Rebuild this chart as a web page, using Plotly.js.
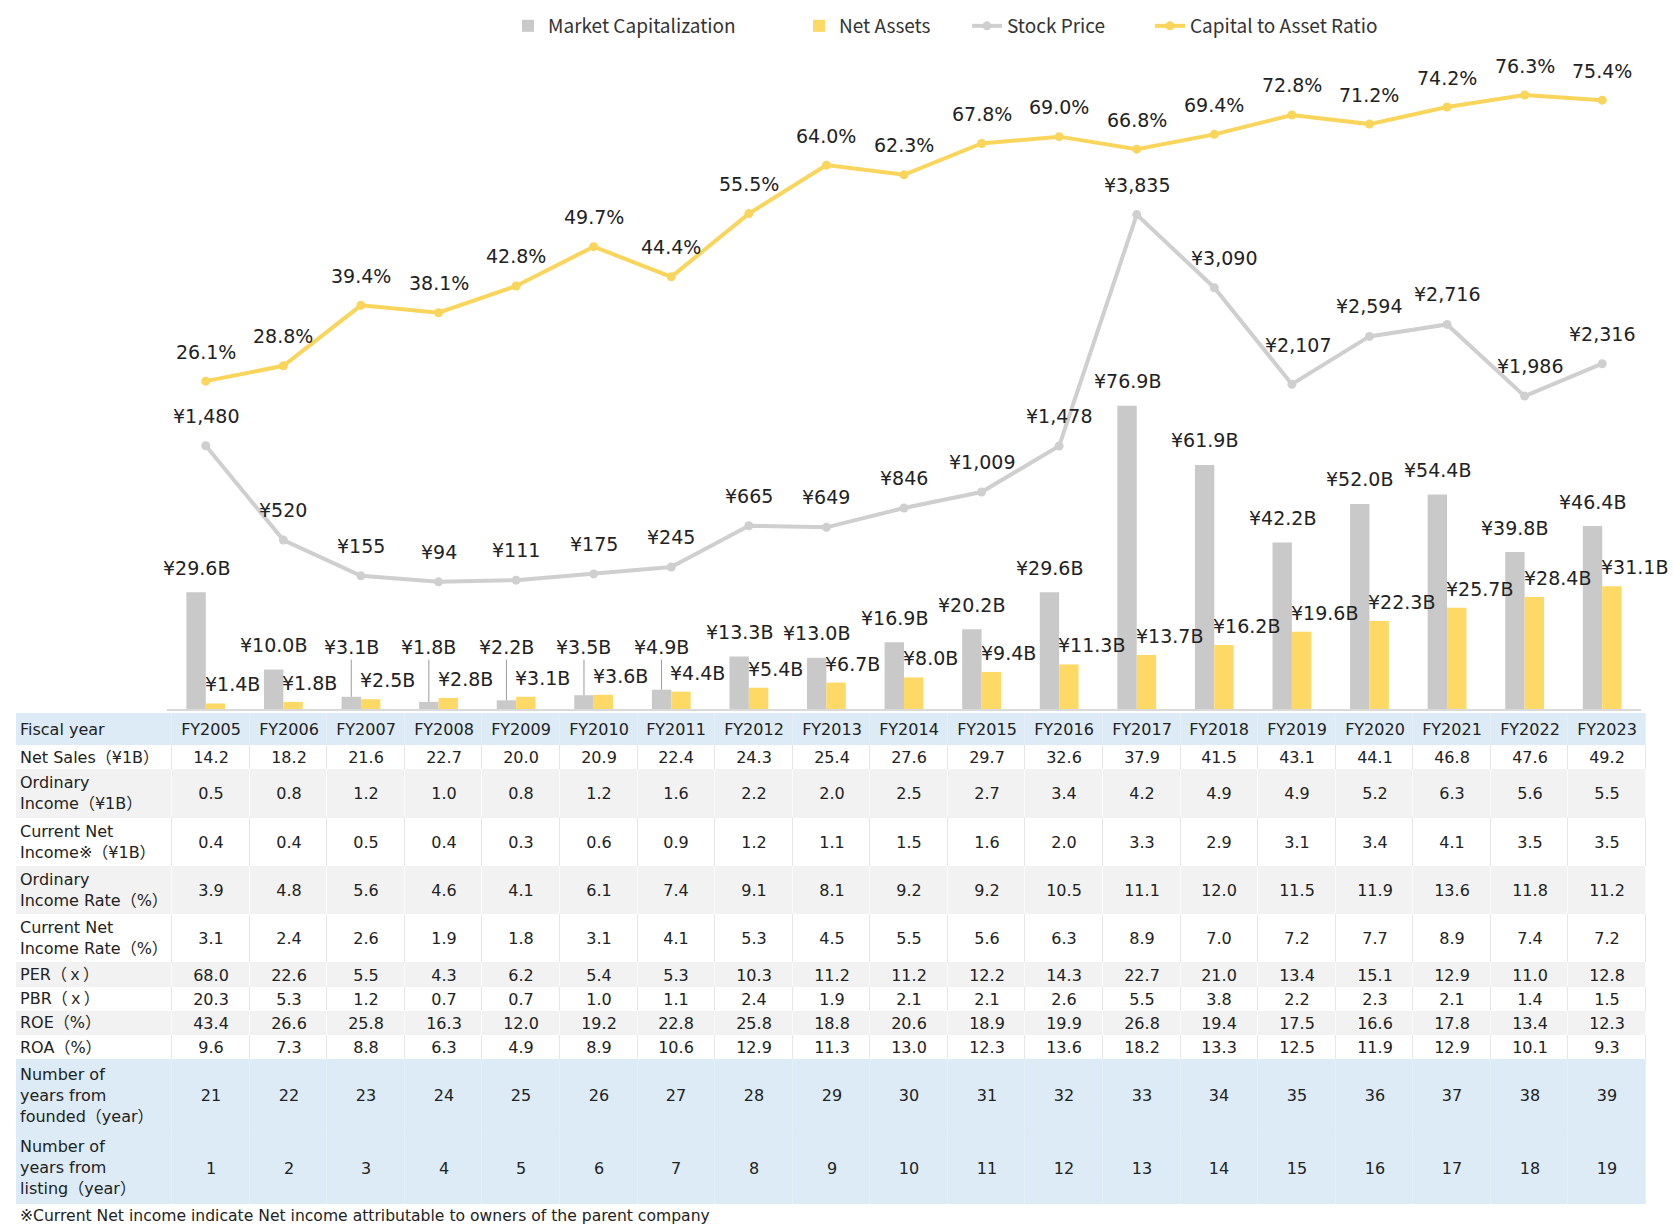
<!DOCTYPE html>
<html>
<head>
<meta charset="utf-8">
<script src="https://cdn.plot.ly/plotly-3.0.1.min.js"></script>
<style>html,body{margin:0;padding:0;background:#ffffff;} #chart{width:1674px;height:1231px;}</style>
</head>
<body>
<div id="chart"></div>
<script>
// ---------------- data ----------------
const fiscalYears = ['FY2005','FY2006','FY2007','FY2008','FY2009','FY2010','FY2011','FY2012','FY2013','FY2014','FY2015','FY2016','FY2017','FY2018','FY2019','FY2020','FY2021','FY2022','FY2023'];
const marketCap = [29.6,10.0,3.1,1.8,2.2,3.5,4.9,13.3,13.0,16.9,20.2,29.6,76.9,61.9,42.2,52.0,54.4,39.8,46.4];
const netAssets = [1.4,1.8,2.5,2.8,3.1,3.6,4.4,5.4,6.7,8.0,9.4,11.3,13.7,16.2,19.6,22.3,25.7,28.4,31.1];
const stockPrice = [1480,520,155,94,111,175,245,665,649,846,1009,1478,3835,3090,2107,2594,2716,1986,2316];
const capitalRatio = [26.1,28.8,39.4,38.1,42.8,49.7,44.4,55.5,64.0,62.3,67.8,69.0,66.8,69.4,72.8,71.2,74.2,76.3,75.4];

const netSales = [14.2,18.2,21.6,22.7,20.0,20.9,22.4,24.3,25.4,27.6,29.7,32.6,37.9,41.5,43.1,44.1,46.8,47.6,49.2];
const ordinaryIncome = [0.5,0.8,1.2,1.0,0.8,1.2,1.6,2.2,2.0,2.5,2.7,3.4,4.2,4.9,4.9,5.2,6.3,5.6,5.5];
const currentNetIncome = [0.4,0.4,0.5,0.4,0.3,0.6,0.9,1.2,1.1,1.5,1.6,2.0,3.3,2.9,3.1,3.4,4.1,3.5,3.5];
const ordinaryIncomeRate = [3.9,4.8,5.6,4.6,4.1,6.1,7.4,9.1,8.1,9.2,9.2,10.5,11.1,12.0,11.5,11.9,13.6,11.8,11.2];
const currentNetIncomeRate = [3.1,2.4,2.6,1.9,1.8,3.1,4.1,5.3,4.5,5.5,5.6,6.3,8.9,7.0,7.2,7.7,8.9,7.4,7.2];
const perValues = [68.0,22.6,5.5,4.3,6.2,5.4,5.3,10.3,11.2,11.2,12.2,14.3,22.7,21.0,13.4,15.1,12.9,11.0,12.8];
const pbrValues = [20.3,5.3,1.2,0.7,0.7,1.0,1.1,2.4,1.9,2.1,2.1,2.6,5.5,3.8,2.2,2.3,2.1,1.4,1.5];
const roeValues = [43.4,26.6,25.8,16.3,12.0,19.2,22.8,25.8,18.8,20.6,18.9,19.9,26.8,19.4,17.5,16.6,17.8,13.4,12.3];
const roaValues = [9.6,7.3,8.8,6.3,4.9,8.9,10.6,12.9,11.3,13.0,12.3,13.6,18.2,13.3,12.5,11.9,12.9,10.1,9.3];
const yearsFromFounded = [21,22,23,24,25,26,27,28,29,30,31,32,33,34,35,36,37,38,39];
const yearsFromListing = [1,2,3,4,5,6,7,8,9,10,11,12,13,14,15,16,17,18,19];

const tableRowLabels = [
  'Fiscal year',
  'Net Sales（¥1B）',
  'Ordinary<br>Income（¥1B）',
  'Current Net<br>Income※（¥1B）',
  'Ordinary<br>Income Rate（%）',
  'Current Net<br>Income Rate（%）',
  'PER（ｘ）',
  'PBR（ｘ）',
  'ROE（%）',
  'ROA（%）',
  'Number of<br>years from<br>founded（year）',
  'Number of<br>years from<br>listing（year）'
];
const footnote = '※Current Net income indicate Net income attributable to owners of the parent company';

// ---------------- styling / layout constants ----------------
const FONT = 'DejaVu Sans, Noto Sans CJK JP, sans-serif';
const labelFont = {family: FONT, size: 19, color: '#222222'};
const W = 1674, H = 1231;
const fy = v => v.toFixed(1);
const yen = v => '¥' + String(v).replace(/\B(?=(\d{3})+(?!\d))/g, ',');

const tableRowValues = [
  fiscalYears,
  netSales.map(fy), ordinaryIncome.map(fy), currentNetIncome.map(fy),
  ordinaryIncomeRate.map(fy), currentNetIncomeRate.map(fy),
  perValues.map(fy), pbrValues.map(fy), roeValues.map(fy), roaValues.map(fy),
  yearsFromFounded.map(String), yearsFromListing.map(String)
];
const tableRowFill = [2,0,1,0,1,0,1,0,1,0,2,2];          // 0 white, 1 grey, 2 blue
const dividerColors = ['#e6e6e6', '#fbfbfb', '#e6eef7'];   // divider tint per fill class
const tableRowLines = [1.33,1,2,2,2,2,1,1,1,1,3,3];       // row heights in line units
const labelColUnits = 156/77.5;                          // label column width in data-column units

// table geometry
const yEdges = [0];
tableRowLines.forEach(h => yEdges.push(yEdges[yEdges.length-1] + h));
const tableTotal = yEdges[yEdges.length-1];
const xEdges = [-0.5 - labelColUnits];
for (let i = 0; i <= fiscalYears.length; i++) xEdges.push(i - 0.5);
const zFill = tableRowFill.map(f => new Array(fiscalYears.length + 1).fill(f));
const zText = tableRowValues.map(vals => [''].concat(vals));

// ---------------- traces ----------------
const traces = [
  {type:'bar', name:'Market Capitalization', x:fiscalYears, y:marketCap, xaxis:'x', yaxis:'y',
   marker:{color:'#c9c9c9'}, hoverinfo:'skip', legendwidth:246},
  {type:'bar', name:'Net Assets', x:fiscalYears, y:netAssets, xaxis:'x', yaxis:'y',
   marker:{color:'#ffd966'}, hoverinfo:'skip', legendwidth:123},
  {type:'scatter', mode:'lines+markers', name:'Stock Price', x:fiscalYears, y:stockPrice, xaxis:'x', yaxis:'y2',
   line:{color:'#cfcfcf', width:4}, marker:{color:'#cfcfcf', size:9}, hoverinfo:'skip', legendwidth:138},
  {type:'scatter', mode:'lines+markers', name:'Capital to Asset Ratio', x:fiscalYears, y:capitalRatio, xaxis:'x', yaxis:'y3',
   line:{color:'#f9d55c', width:4}, marker:{color:'#f9d55c', size:9}, hoverinfo:'skip', legendwidth:200},
  {type:'heatmap', x:xEdges, y:yEdges, z:zFill, text:zText, texttemplate:'%{text}',
   textfont:{family:FONT, size:16, color:'#222222'},
   colorscale:[[0,'#ffffff'],[0.5,'#f2f2f2'],[1,'#ddebf7']], zmin:0, zmax:2,
   showscale:false, xgap:1, ygap:0, xaxis:'x2', yaxis:'y4', hoverinfo:'skip', showlegend:false}
];

// ---------------- annotations ----------------
const annotations = [];
const leaderThreshold = 6;       // small market-cap bars get a leader line
const leaderLabelLevel = 15.7;   // label height for those (bar-axis units)
const stockLabelNudge = {FY2018:[10,0], FY2019:[6,9], FY2022:[5,0]};
fiscalYears.forEach((f, i) => {
  const mcText = '¥' + marketCap[i].toFixed(1) + 'B';
  if (marketCap[i] < leaderThreshold) {
    annotations.push({xref:'x', yref:'y', x:f, y:marketCap[i], text:mcText, font:labelFont, xshift:-9.7,
      showarrow:true, arrowhead:0, arrowwidth:1, arrowcolor:'#9c9c9c', ax:0, axref:'pixel', ayref:'y', ay:leaderLabelLevel, standoff:0});
  } else {
    annotations.push({xref:'x', yref:'y', x:f, y:marketCap[i], text:mcText, font:labelFont, xshift:-9.7, yshift:24.5,
      showarrow:false, xanchor:'center', yanchor:'middle'});
  }
  annotations.push({xref:'x', yref:'y', x:f, y:netAssets[i], text:'¥' + netAssets[i].toFixed(1) + 'B', font:labelFont,
    xanchor:'left', yanchor:'middle', xshift:-3, yshift:19, showarrow:false});
  const n = stockLabelNudge[f] || [0,0];
  annotations.push({xref:'x', yref:'y2', x:f, y:stockPrice[i], text:yen(stockPrice[i]), font:labelFont,
    xanchor:'center', yanchor:'middle', xshift:n[0], yshift:30 + n[1], showarrow:false});
  annotations.push({xref:'x', yref:'y3', x:f, y:capitalRatio[i], text:capitalRatio[i].toFixed(1) + '%', font:labelFont,
    xanchor:'center', yanchor:'middle', yshift:29.5, showarrow:false});
});
tableRowLabels.forEach((lab, r) => {
  annotations.push({xref:'x2', yref:'y4', x:xEdges[0], y:(yEdges[r] + yEdges[r+1]) / 2, text:lab,
    xanchor:'left', yanchor:'middle', align:'left', xshift:2, showarrow:false,
    font:{family:FONT, size:16, color:'#222222'}});
});
annotations.push({xref:'x2', yref:'paper', x:xEdges[0], y:(H - 1216) / H, text:footnote, xanchor:'left', yanchor:'middle',
  xshift:2, showarrow:false, font:{family:FONT, size:15.6, color:'#222222'}});

// divider backgrounds (show through the heatmap gaps), one per table row
const shapes = tableRowFill.map((f, r) => ({type:'rect', xref:'x2', yref:'y4',
  x0:xEdges[0], x1:xEdges[xEdges.length-1], y0:yEdges[r], y1:yEdges[r+1],
  fillcolor:dividerColors[f], line:{width:0}, layer:'below'}));

// ---------------- layout ----------------
const chartBottomPx = 709, chartTopPx = 50;
const layout = {
  width:W, height:H, margin:{l:0, r:0, t:0, b:0},
  paper_bgcolor:'#ffffff', plot_bgcolor:'rgba(0,0,0,0)',
  font:{family:FONT, size:16, color:'#222222'},
  barmode:'group', bargap:0.5, bargroupgap:0,
  showlegend:true,
  legend:{orientation:'h', x:508/W, xanchor:'left', y:(H - 26)/H, yanchor:'middle', traceorder:'normal',
    font:{family:'Noto Sans CJK JP, sans-serif', size:19, color:'#333333'}, bgcolor:'rgba(0,0,0,0)'},
  xaxis:{domain:[167/W, 1641/W], type:'category', range:[-0.5, 18.5], anchor:'y', showticklabels:false, ticks:'',
    showgrid:false, zeroline:false, showline:true, linecolor:'#d9d9d9', linewidth:2, fixedrange:true},
  yaxis:{domain:[(H - chartBottomPx)/H, (H - chartTopPx)/H], range:[0, 167.1], visible:false, showgrid:false, zeroline:false, fixedrange:true},
  yaxis2:{overlaying:'y', range:[-1201.3, 5511.6], visible:false, showgrid:false, zeroline:false, fixedrange:true},
  yaxis3:{overlaying:'y', range:[-31.42, 84.20], visible:false, showgrid:false, zeroline:false, fixedrange:true},
  xaxis2:{domain:[16/W, 1646/W], anchor:'y4', range:[xEdges[0], xEdges[xEdges.length-1]], visible:false, showgrid:false, zeroline:false, fixedrange:true},
  yaxis4:{domain:[(H - 1204)/H, (H - 713)/H], anchor:'x2', range:[tableTotal, 0], visible:false, showgrid:false, zeroline:false, fixedrange:true},
  shapes:shapes,
  annotations:annotations
};

Plotly.newPlot('chart', traces, layout, {staticPlot:true, displayModeBar:false});
</script>
</body>
</html>
